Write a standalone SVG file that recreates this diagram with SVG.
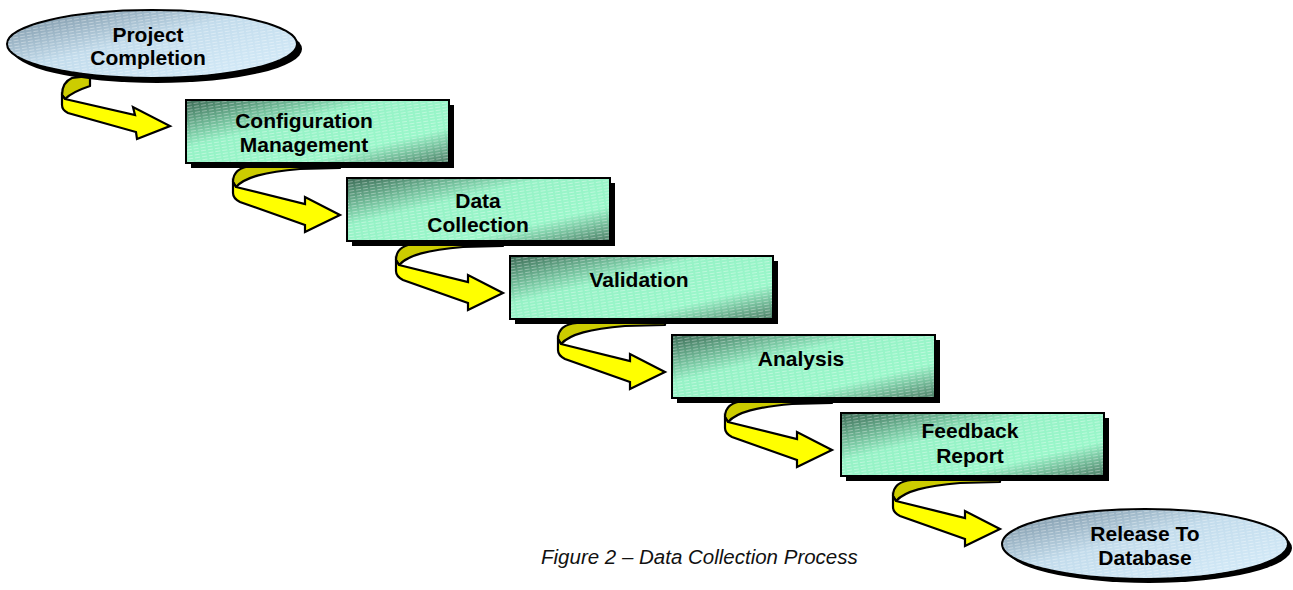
<svg xmlns="http://www.w3.org/2000/svg" width="1293" height="590" viewBox="0 0 1293 590">
<style>
.lbl{font-family:"Liberation Sans",Arial,sans-serif;font-weight:bold;font-size:21px;fill:#000;text-anchor:middle}
.cap{font-family:"Liberation Sans",Arial,sans-serif;font-style:italic;font-size:20.5px;fill:#111}
.box{fill:url(#gBox);stroke:#000;stroke-width:2}
.ell{fill:url(#gEll);stroke:#000;stroke-width:2}
.shd{fill:#000}
.hat{fill:url(#hatch);stroke:none}
.dk{fill:#cccc00;stroke:#000;stroke-width:2.2;stroke-linejoin:round}
.br{fill:#ffff00;stroke:#000;stroke-width:2.2;stroke-linejoin:miter}
</style>
<defs>
<linearGradient id="gBox" x1="0" y1="0" x2="1" y2="1">
<stop offset="0" stop-color="#3c6a55"/>
<stop offset="0.38" stop-color="#96f2c6"/>
<stop offset="0.72" stop-color="#9af7ca"/>
<stop offset="1" stop-color="#4d7d66"/>
</linearGradient>
<linearGradient id="gEll" x1="0" y1="0" x2="1" y2="1">
<stop offset="0" stop-color="#6f8899"/>
<stop offset="0.45" stop-color="#c3dcec"/>
<stop offset="1" stop-color="#d8eefb"/>
</linearGradient>
<pattern id="hatch" width="7" height="3" patternUnits="userSpaceOnUse" patternTransform="rotate(-9)">
<rect width="5" height="1" fill="#ffffff" opacity="0.35"/>
</pattern>
<g id="arrow">
<path class="dk" d="M 0,-49 L -88,-49 C -101,-48 -107,-42 -107,-33 L -104,-28 C -95,-38 -75,-43 -40,-46 L 0,-47 Z"/>
<path class="br" d="M -104,-28 L -35,-11 L -35,-18 L 0,0 L -35,17 L -35,10 L -100,-13 C -104,-15 -107,-18 -107,-22 L -107,-33 Z"/>
</g>
</defs>
<rect width="1293" height="590" fill="#fff"/>

<g id="connectors">
<g id="arrow1">
<path class="dk" d="M 72,78 C 65,81 62,87 62,95 L 65,99 C 70,94 78,90 90,86 L 90,76 Z"/>
<path class="br" d="M 65,99 L 135,115 L 133,107 L 170,126 L 137,139 L 136,132 L 68,113 C 64,111 62,108 62,105 L 62,95 Z"/>
</g>
<use id="arrow2" href="#arrow" transform="translate(340,215)"/>
<use id="arrow3" href="#arrow" transform="translate(503,293)"/>
<use id="arrow4" href="#arrow" transform="translate(665,372)"/>
<use id="arrow5" href="#arrow" transform="translate(832,450)"/>
<use id="arrow6" href="#arrow" transform="translate(1000,529)"/>
</g>

<g id="project-completion">
<ellipse class="shd" cx="157" cy="49" rx="145" ry="34"/>
<ellipse class="ell" cx="152" cy="44" rx="145" ry="34"/>
<ellipse class="hat" cx="152" cy="44" rx="144" ry="33"/>
<text class="lbl" x="148" y="42">Project</text>
<text class="lbl" x="148" y="65">Completion</text>
</g>

<g id="configuration-management">
<rect class="shd" x="191" y="105" width="263" height="63"/>
<rect class="box" x="186" y="100" width="263" height="63"/>
<rect class="hat" x="187" y="101" width="261" height="61"/>
<text class="lbl" x="304" y="128">Configuration</text>
<text class="lbl" x="304" y="152">Management</text>
</g>

<g id="data-collection">
<rect class="shd" x="352" y="183" width="263" height="63"/>
<rect class="box" x="347" y="178" width="263" height="63"/>
<rect class="hat" x="348" y="179" width="261" height="61"/>
<text class="lbl" x="478" y="208">Data</text>
<text class="lbl" x="478" y="232">Collection</text>
</g>

<g id="validation">
<rect class="shd" x="515" y="261" width="263" height="63"/>
<rect class="box" x="510" y="256" width="263" height="63"/>
<rect class="hat" x="511" y="257" width="261" height="61"/>
<text class="lbl" x="639" y="287">Validation</text>
</g>

<g id="analysis">
<rect class="shd" x="677" y="340" width="263" height="63"/>
<rect class="box" x="672" y="335" width="263" height="63"/>
<rect class="hat" x="673" y="336" width="261" height="61"/>
<text class="lbl" x="801" y="366">Analysis</text>
</g>

<g id="feedback-report">
<rect class="shd" x="846" y="418" width="263" height="63"/>
<rect class="box" x="841" y="413" width="263" height="63"/>
<rect class="hat" x="842" y="414" width="261" height="61"/>
<text class="lbl" x="970" y="438">Feedback</text>
<text class="lbl" x="970" y="463">Report</text>
</g>

<g id="release-to-database">
<ellipse class="shd" cx="1149" cy="548" rx="143" ry="35"/>
<ellipse class="ell" cx="1145" cy="544" rx="143" ry="35"/>
<ellipse class="hat" cx="1145" cy="544" rx="142" ry="34"/>
<text class="lbl" x="1145" y="541">Release To</text>
<text class="lbl" x="1145" y="565">Database</text>
</g>

<text id="caption" class="cap" x="541" y="564">Figure 2 – Data Collection Process</text>
</svg>
